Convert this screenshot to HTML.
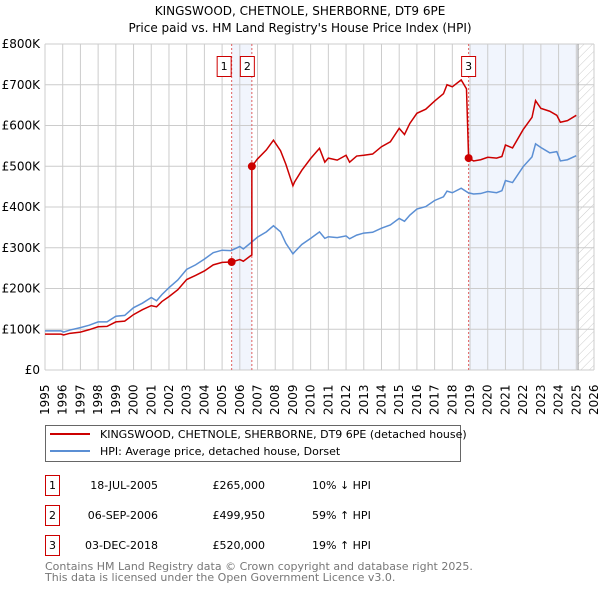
<!DOCTYPE html>
<html><head><meta charset="utf-8"><style>
body{margin:0;background:#fff;font-family:"DejaVu Sans","Liberation Sans",sans-serif}
svg{display:block}
</style></head><body>
<svg id="c" width="600" height="590" xmlns="http://www.w3.org/2000/svg" font-family="DejaVu Sans, Liberation Sans, sans-serif">
<text x="300" y="15" font-size="12" text-anchor="middle">KINGSWOOD, CHETNOLE, SHERBORNE, DT9 6PE</text>
<text x="300" y="32" font-size="12" text-anchor="middle">Price paid vs. HM Land Registry's House Price Index (HPI)</text>
<defs><pattern id="h" width="6" height="6" patternUnits="userSpaceOnUse" patternTransform="rotate(45)"><line x1="0" y1="0" x2="0" y2="6" stroke="#ccc" stroke-width="1"/></pattern></defs>
<g id="plot"></g>
<g>
<rect x="45.5" y="425.5" width="415" height="36" fill="#fff" stroke="#666"/>
<line x1="50" y1="434" x2="90" y2="434" stroke="#cc0000" stroke-width="2"/>
<text x="100" y="438" font-size="11">KINGSWOOD, CHETNOLE, SHERBORNE, DT9 6PE (detached house)</text>
<line x1="50" y1="451" x2="90" y2="451" stroke="#5b8fd4" stroke-width="2"/>
<text x="100" y="455" font-size="11">HPI: Average price, detached house, Dorset</text>
</g>
<g font-size="11">
<g><rect x="45.5" y="475.5" width="14" height="20" fill="#fff" stroke="#cc0000"/><text x="52.5" y="489" text-anchor="middle">1</text><text x="158" y="489" text-anchor="end">18-JUL-2005</text><text x="265" y="489" text-anchor="end">£265,000</text><text x="312" y="489">10% ↓ HPI</text></g>
<g><rect x="45.5" y="505.5" width="14" height="20" fill="#fff" stroke="#cc0000"/><text x="52.5" y="519" text-anchor="middle">2</text><text x="158" y="519" text-anchor="end">06-SEP-2006</text><text x="265" y="519" text-anchor="end">£499,950</text><text x="312" y="519">59% ↑ HPI</text></g>
<g><rect x="45.5" y="535.5" width="14" height="20" fill="#fff" stroke="#cc0000"/><text x="52.5" y="549" text-anchor="middle">3</text><text x="158" y="549" text-anchor="end">03-DEC-2018</text><text x="265" y="549" text-anchor="end">£520,000</text><text x="312" y="549">19% ↑ HPI</text></g>
</g>
<text x="45" y="570" font-size="11" fill="#777">Contains HM Land Registry data © Crown copyright and database right 2025.</text>
<text x="45" y="581" font-size="11" fill="#777">This data is licensed under the Open Government Licence v3.0.</text>
</svg>
<script>
const yTicks=[0,100,200,300,400,500,600,700,800];
const yTickLabels=["£0","£100K","£200K","£300K","£400K","£500K","£600K","£700K","£800K"];
const xYears=[1995,1996,1997,1998,1999,2000,2001,2002,2003,2004,2005,2006,2007,2008,2009,2010,2011,2012,2013,2014,2015,2016,2017,2018,2019,2020,2021,2022,2023,2024,2025,2026];
const hpiDates=[1995,1995.9,1996.05,1996.4,1997,1997.5,1998,1998.5,1999,1999.5,2000,2000.5,2001,2001.3,2001.6,2002,2002.5,2003,2003.5,2004,2004.5,2005,2005.5,2006,2006.2,2006.7,2007,2007.5,2007.9,2008.3,2008.6,2009,2009.1,2009.5,2010,2010.5,2010.8,2011,2011.5,2012,2012.2,2012.6,2013,2013.5,2014,2014.5,2015,2015.3,2015.6,2016,2016.5,2017,2017.5,2017.7,2018,2018.5,2018.9,2019.2,2019.6,2020,2020.5,2020.8,2021,2021.4,2022,2022.5,2022.7,2023,2023.5,2023.9,2024.1,2024.5,2025];
const hpiValues=[96,96,93,98,104,110,118,118,132,134,153,164,178,170,185,202,221,247,258,272,288,294,293,303,297,315,326,339,354,339,311,285,290,308,323,339,323,327,325,329,322,331,336,338,348,356,372,365,380,395,401,416,425,439,435,446,435,432,433,438,435,440,465,460,499,523,555,546,533,536,513,516,526];
const redDates=[1995,1995.9,1996.05,1996.4,1997,1997.5,1998,1998.5,1999,1999.5,2000,2000.5,2001,2001.3,2001.6,2002,2002.5,2003,2003.5,2004,2004.5,2005,2005.54,2006,2006.2,2006.6,2006.68,2006.68,2007,2007.5,2007.9,2008.3,2008.6,2009,2009.1,2009.5,2010,2010.5,2010.8,2011,2011.5,2012,2012.2,2012.6,2013,2013.5,2014,2014.5,2015,2015.3,2015.6,2016,2016.5,2017,2017.5,2017.7,2018,2018.5,2018.8,2018.92,2019.2,2019.6,2020,2020.5,2020.8,2021,2021.4,2022,2022.5,2022.7,2023,2023.5,2023.9,2024.1,2024.5,2025];
const redValues=[88,88,86,90,93,99,106,107,118,120,136,148,158,155,168,180,197,222,232,243,258,264,265,271,267,280,282,500,518,540,564,538,505,452,462,490,519,544,510,520,515,527,510,525,527,530,548,560,593,578,605,630,640,660,678,700,695,712,690,520,513,516,522,520,524,552,545,590,620,661,642,635,625,608,612,625];
const saleDates=[2005.54,2006.68,2018.92];
const saleValues=[265,499.95,520];
const saleLabels=["1","2","3"];
const X0=45,X1=594,Y0=370,Y1=44;
const xs=t=>X0+(t-1995)/(2026-1995)*(X1-X0);
const ys=v=>Y0-v/800*(Y0-Y1);
const NS="http://www.w3.org/2000/svg";
const g=document.getElementById('plot');
function mk(tag,attrs,parent){const e=document.createElementNS(NS,tag);for(const k in attrs)e.setAttribute(k,attrs[k]);(parent||g).appendChild(e);return e;}
let e;
e=mk('rect',{x:xs(saleDates[0]),y:Y1,width:xs(saleDates[1])-xs(saleDates[0]),height:Y0-Y1,fill:'#eef3fc',opacity:0.8});


e=mk('rect',{x:xs(saleDates[2]),y:Y1,width:xs(2025.1)-xs(saleDates[2]),height:Y0-Y1,fill:'#eef3fc',opacity:0.8});


e=mk('rect',{x:xs(2025.1),y:Y1,width:X1-xs(2025.1),height:Y0-Y1,fill:'url(#h)'});


xYears.forEach(yr=>{const x=xs(yr);
e=mk('line',{x1:x,x2:x,y1:Y1,y2:Y0,stroke:'#ccc','stroke-width':1});


e=mk('text',{x:0,y:0,'font-size':12,transform:`translate(${x+4},415) rotate(-90)`});
e.textContent=yr;


});
yTicks.forEach((v,i)=>{const y=ys(v);
e=mk('line',{x1:X0,x2:X1,y1:y,y2:y,stroke:'#ccc','stroke-width':1});


e=mk('text',{x:X0-5,y:y+4,'font-size':12,'text-anchor':'end'});
e.textContent=yTickLabels[i];


});
e=mk('line',{x1:xs(2025.1),x2:xs(2025.1),y1:Y1,y2:Y0,stroke:'#999','stroke-width':1});


saleDates.forEach((d,i)=>{const x=xs(d);
e=mk('line',{x1:x,x2:x,y1:Y1,y2:Y0,stroke:'#e06060','stroke-width':1,'stroke-dasharray':'2,2'});


});
e=mk('polyline',{points:hpiDates.map((d,i)=>xs(d)+','+ys(hpiValues[i])).join(' '),fill:'none',stroke:'#5b8fd4','stroke-width':1.5});


e=mk('polyline',{points:redDates.map((d,i)=>xs(d)+','+ys(redValues[i])).join(' '),fill:'none',stroke:'#cc0000','stroke-width':1.5});


saleDates.forEach((d,i)=>{const x=xs(d);
e=mk('circle',{cx:x,cy:ys(saleValues[i]),r:4,fill:'#cc0000'});


const bx=x-(i<2&&i==0?9:7)-7;
e=mk('rect',{x:(i==2?x-7:x-14.5)-(i==1?-3:0),y:56.5,width:14,height:20,fill:'#fff',stroke:'#cc0000'});


e=mk('text',{x:(i==2?x:x-7.5)+(i==1?3:0),y:70,'font-size':11,'text-anchor':'middle'});
e.textContent=saleLabels[i];


});
</script>
</body></html>
